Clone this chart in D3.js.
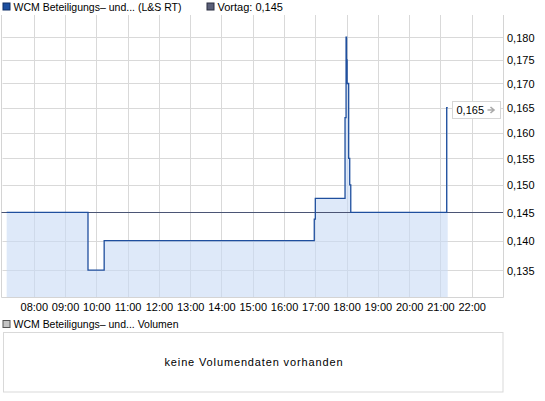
<!DOCTYPE html>
<html>
<head>
<meta charset="utf-8">
<script src="https://cdn.jsdelivr.net/npm/d3@7"></script>
<style>
    body { margin: 0; background: #fff; }
    text { font-family: "Liberation Sans", Arial, sans-serif; font-size: 11px; fill: #000; }
</style>
</head>
<body>
<div id="container"></div>
<script>
// price series (time of trade, price)
const times = ["07:08", "09:44", "10:15", "16:58", "17:00", "17:57", "17:59", "18:00",
               "18:01", "18:04", "18:06", "18:08", "21:12", "21:14"];
const prices = [0.145, 0.135, 0.140, 0.1438, 0.1475, 0.163, 0.180, 0.175,
                0.170, 0.155, 0.150, 0.145, 0.165, 0.165];
const previousClose = 0.145;
const yTicks = [0.135, 0.140, 0.145, 0.150, 0.155, 0.160, 0.165, 0.170, 0.175, 0.180];
const hourTicks = ["08:00", "09:00", "10:00", "11:00", "12:00", "13:00", "14:00", "15:00",
                   "16:00", "17:00", "18:00", "19:00", "20:00", "21:00", "22:00"];
const seriesName = "WCM Beteiligungs\u2013 und... (L&S RT)";
const prevName = "Vortag: 0,145";
const volumeName = "WCM Beteiligungs\u2013 und... Volumen";
const noVolume = "keine Volumendaten vorhanden";

const width = 545,
        height = 401,
        plot = {left: 2.5, right: 503, top: 15, bottom: 297};

const parseTime = d3.timeParse("%H:%M");
const de = d3.formatLocale({decimal: ",", thousands: ".", grouping: [3], currency: ["", " €"]});
const fmt = de.format(".3f");

const data = times.map((t, i) => ({t: parseTime(t), v: prices[i]}));

var svg = d3.select("#container").append("svg")
        .attr("width", width)
        .attr("height", height)
        .style("display", "block");

var x = d3.scaleTime()
        .domain([parseTime("07:00"), parseTime("23:00")])
        .range([plot.left, plot.right]);

var y = d3.scaleLog()
        .domain([0.1306, 0.185])
        .range([plot.bottom, plot.top]);

// grid
svg.append("g")
    .selectAll("line")
    .data(hourTicks.map(parseTime))
    .join("line")
    .attr("x1", d => Math.round(x(d)) + 0.5)
    .attr("x2", d => Math.round(x(d)) + 0.5)
    .attr("y1", plot.top)
    .attr("y2", plot.bottom)
    .attr("stroke", "#d9d9d9");

svg.append("g")
    .selectAll("line")
    .data(yTicks)
    .join("line")
    .attr("x1", plot.left)
    .attr("x2", plot.right)
    .attr("y1", d => Math.round(y(d)) + 0.5)
    .attr("y2", d => Math.round(y(d)) + 0.5)
    .attr("stroke", "#d9d9d9");

// fill under the price, the grid shows tinted through it
var area = d3.area()
        .curve(d3.curveStepAfter)
        .x(d => x(d.t))
        .y0(plot.bottom)
        .y1(d => y(d.v));

svg.append("path")
    .datum(data)
    .attr("d", area)
    .attr("fill", "#c8dbf5")
    .attr("fill-opacity", 0.6);

// plot frame: left, right, bottom
svg.append("path")
    .attr("d", `M${plot.left - 1},${plot.top}V${plot.bottom + 0.5}H${plot.right + 0.5}V${plot.top}`)
    .attr("fill", "none")
    .attr("stroke", "#d4d4d4");

// previous close line
svg.append("line")
    .attr("x1", plot.left - 1)
    .attr("x2", plot.right)
    .attr("y1", Math.round(y(previousClose)) + 0.5)
    .attr("y2", Math.round(y(previousClose)) + 0.5)
    .attr("stroke", "#4b5575")
    .attr("stroke-width", 1.2);

// price line
svg.append("path")
    .datum(data)
    .attr("d", d3.line().curve(d3.curveStepAfter).x(d => x(d.t)).y(d => y(d.v)))
    .attr("fill", "none")
    .attr("stroke", "#1f4f9e")
    .attr("stroke-width", 1.3);

// y axis labels
svg.append("g")
    .attr("id", "yaxisticks")
    .attr("transform", `translate(${plot.right}, 0)`)
    .call(d3.axisRight(y).tickValues(yTicks).tickFormat(fmt).tickSize(0).tickPadding(4))
    .call(g => g.select(".domain").remove())
    .call(g => g.selectAll("text").attr("font-family", null).attr("font-size", null).attr("dy", "0.36em"));

// x axis labels
svg.append("g")
    .attr("id", "xaxisticks")
    .attr("transform", `translate(0, ${plot.bottom})`)
    .call(d3.axisBottom(x).tickValues(hourTicks.map(parseTime)).tickFormat(d3.timeFormat("%H:%M")).tickSize(0).tickPadding(6))
    .call(g => g.select(".domain").remove())
    .call(g => g.selectAll("text").attr("font-family", null).attr("font-size", null));

// last price label
var last = data[data.length - 1];
var ly = y(last.v);
var tag = svg.append("g").attr("transform", `translate(452.5, ${Math.round(ly) - 6.5})`);
tag.append("rect")
    .attr("width", 48)
    .attr("height", 17)
    .attr("fill", "#fff")
    .attr("stroke", "#d6d6d6");
tag.append("text")
    .attr("x", 4)
    .attr("y", 12.5)
    .text(fmt(last.v));
tag.append("path")
    .attr("d", "M35,8.5H41M38,5.5L41.5,8.5L38,11.5")
    .attr("fill", "none")
    .attr("stroke", "#aaaaaa")
    .attr("stroke-width", 1.6);

// legends
function legendItem(px, py, color, border, label, len) {
    svg.append("rect")
        .attr("x", px + 0.5)
        .attr("y", py + 0.5)
        .attr("width", 7)
        .attr("height", 7)
        .attr("fill", color)
        .attr("stroke", border);
    var t = svg.append("text")
        .attr("x", px + 11)
        .attr("y", py + 8)
        .text(label);
    if (len) t.attr("textLength", len).attr("lengthAdjust", "spacingAndGlyphs");
}
legendItem(2.5, 2.5, "#1c4f9f", "#0e2f66", seriesName, 168);
legendItem(206.5, 2.5, "#5a5f78", "#2b2f40", prevName);
legendItem(2.5, 320, "#c4c4c4", "#555", volumeName, 165);

// empty volume panel
svg.append("rect")
    .attr("x", 3.5)
    .attr("y", 332.5)
    .attr("width", 499.5)
    .attr("height", 59.5)
    .attr("fill", "#fff")
    .attr("stroke", "#d9d9d9");

svg.append("text")
    .attr("x", 253.5)
    .attr("y", 366)
    .attr("text-anchor", "middle")
    .attr("font-size", "12px")
    .attr("textLength", 178)
    .attr("lengthAdjust", "spacing")
    .text(noVolume);
</script>
</body>
</html>
